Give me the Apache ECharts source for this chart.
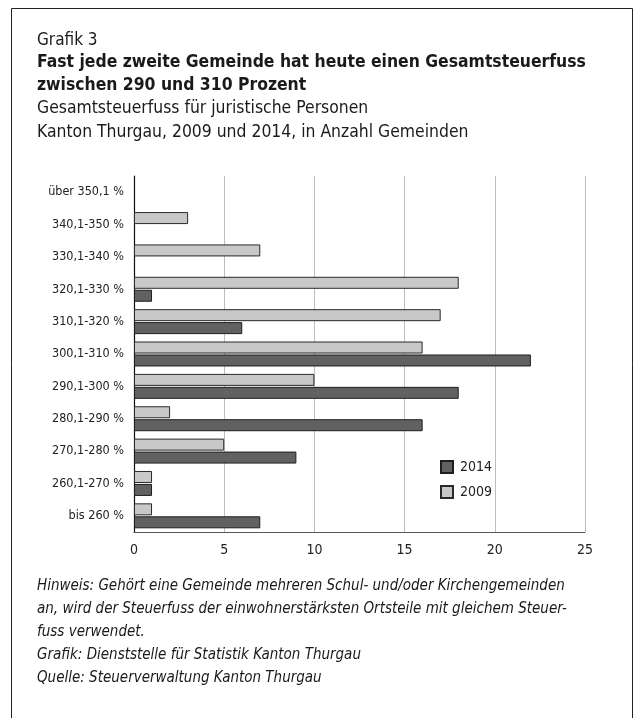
<!DOCTYPE html>
<html>
<head>
<meta charset="utf-8">
<script src="https://cdn.jsdelivr.net/npm/echarts@6/dist/echarts.min.js"></script>
<style>
  html, body { margin: 0; padding: 0; background: #fff; }
  #chart { width: 636px; height: 718px; }
</style>
</head>
<body>
<div id="chart"></div>
<script>
// Tax-rate bands, listed from the top row down
const categories = [
  'über 350,1 %', '340,1-350 %', '330,1-340 %', '320,1-330 %', '310,1-320 %',
  '300,1-310 %', '290,1-300 %', '280,1-290 %', '270,1-280 %', '260,1-270 %', 'bis 260 %'
];
// Number of municipalities per band
const values2009 = [0, 3, 7, 18, 17, 16, 10, 2, 5, 1, 1];
const values2014 = [0, 0, 0, 1, 6, 22, 18, 16, 9, 1, 7];
const xTicks = [0, 5, 10, 15, 20, 25];

const FONT = '"Liberation Sans Narrow", "DejaVu Sans Condensed", "Roboto", sans-serif';
const chart = echarts.init(document.getElementById('chart'), null, { renderer: 'canvas' });

// empty bands get no outline, so nothing is stroked along the axis
const toBarData = vals => vals.map(v => (v === 0 ? { value: v, itemStyle: { borderWidth: 0 } } : v));

const textLines = [
  { t: 'Grafik 3', y: 42, size: 17, weight: 'normal', style: 'normal' },
  { t: 'Fast jede zweite Gemeinde hat heute einen Gesamtsteuerfuss', y: 64, size: 17.4, weight: 'bold', style: 'normal' },
  { t: 'zwischen 290 und 310 Prozent', y: 87, size: 17.4, weight: 'bold', style: 'normal' },
  { t: 'Gesamtsteuerfuss für juristische Personen', y: 110, size: 17.4, weight: 'normal', style: 'normal' },
  { t: 'Kanton Thurgau, 2009 und 2014, in Anzahl Gemeinden', y: 134, size: 17.4, weight: 'normal', style: 'normal' },
  { t: 'Hinweis: Gehört eine Gemeinde mehreren Schul- und/oder Kirchengemeinden', y: 588, size: 15, weight: 'normal', style: 'italic' },
  { t: 'an, wird der Steuerfuss der einwohnerstärksten Ortsteile mit gleichem Steuer-', y: 611, size: 15, weight: 'normal', style: 'italic' },
  { t: 'fuss verwendet.', y: 634, size: 15, weight: 'normal', style: 'italic' },
  { t: 'Grafik: Dienststelle für Statistik Kanton Thurgau', y: 657, size: 15, weight: 'normal', style: 'italic' },
  { t: 'Quelle: Steuerverwaltung Kanton Thurgau', y: 680, size: 15, weight: 'normal', style: 'italic' }
];

const graphics = [
  // frame around the whole figure (open at the bottom)
  {
    type: 'polyline',
    shape: { points: [[11.5, 718], [11.5, 8.5], [632.5, 8.5], [632.5, 718]] },
    style: { fill: null, stroke: '#222', lineWidth: 1 },
    silent: true
  }
].concat(textLines.map(l => ({
  type: 'text',
  left: 37,
  top: l.y - l.size * 0.6,
  style: {
    text: l.t,
    fill: '#1a1a1a',
    font: `${l.style} ${l.weight} ${l.size}px ${FONT}`
  },
  silent: true
})));

chart.setOption({
  animation: false,
  backgroundColor: '#fff',
  textStyle: { fontFamily: FONT },
  grid: { left: 134, right: 51, top: 176, bottom: 186, containLabel: false },
  legend: {
    orient: 'vertical',
    left: 440,
    top: 460,
    padding: 0,
    itemWidth: 12,
    itemHeight: 12,
    itemGap: 11,
    icon: 'rect',
    data: ['2014', '2009'],
    textStyle: { fontFamily: FONT, fontSize: 14, color: '#222', padding: [0, 0, 0, 2] }
  },
  xAxis: {
    type: 'value',
    min: xTicks[0],
    max: xTicks[xTicks.length - 1],
    interval: 5,
    axisLine: { show: true, lineStyle: { color: '#555', width: 1 } },
    axisTick: { show: false },
    axisLabel: { margin: 11, fontFamily: FONT, fontSize: 14, color: '#222' },
    splitLine: { show: true, lineStyle: { color: '#bdbdbd', width: 1 } }
  },
  yAxis: {
    type: 'category',
    data: categories,
    inverse: true,
    axisLine: { show: true, onZero: false, lineStyle: { color: '#111', width: 1.2 } },
    axisTick: { show: false },
    axisLabel: { margin: 10, fontFamily: FONT, fontSize: 12.5, color: '#222' },
    splitLine: { show: false }
  },
  series: [
    {
      name: '2009',
      type: 'bar',
      data: toBarData(values2009),
      barWidth: 12,
      barGap: '8%',
      itemStyle: { color: '#c8c8c8', borderColor: '#2a2a2a', borderWidth: 1 }
    },
    {
      name: '2014',
      type: 'bar',
      data: toBarData(values2014),
      barWidth: 12,
      barGap: '8%',
      itemStyle: { color: '#616161', borderColor: '#1e1e1e', borderWidth: 1 }
    }
  ],
  graphic: graphics
});
</script>
</body>
</html>
